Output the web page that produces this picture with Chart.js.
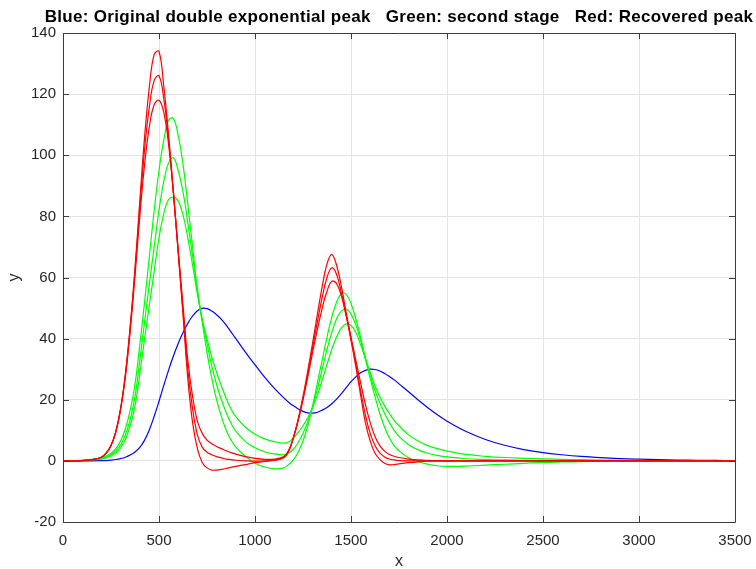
<!DOCTYPE html>
<html>
<head>
<meta charset="utf-8">
<script src="https://cdn.jsdelivr.net/npm/chart.js@4.4.1/dist/chart.umd.min.js"></script>
<style>
  html, body { margin: 0; padding: 0; background: #fff; }
</style>
</head>
<body>
<canvas id="chart" width="756" height="569"></canvas>
<script>
// shared x positions (finer where the peaks are)
const xs = [0, 100, 150,
  200, 225, 250, 275, 300, 325, 350, 375, 400, 425, 450, 475, 500, 525, 550, 575, 600, 625, 650, 675, 700, 725, 750, 775, 800, 825, 850, 875, 900,
  950, 1000, 1050, 1100, 1150,
  1175, 1200, 1225, 1250, 1275, 1300, 1325, 1350, 1375, 1400, 1425, 1450, 1475, 1500, 1525, 1550, 1575, 1600, 1625, 1650, 1675, 1700, 1725, 1750,
  1800, 1850, 1900, 1950, 2000,
  2100, 2200, 2300, 2400, 2500, 2600, 2700, 2800, 2900, 3000, 3100, 3200, 3300, 3400, 3500];

// Blue: original double exponential peak
const original = [0, 0, 0,
  0.05, 0.1, 0.25, 0.45, 0.75, 1.2, 1.9, 2.9, 4.4, 6.8, 10.2, 14.6, 19.5, 24.7, 29.7, 34.3, 38.4, 42, 45, 47.4, 49.1, 49.9, 49.8, 49, 47.8, 46.3, 44.4, 42.2, 40,
  35.6, 31.4, 27.4, 23.8, 20.6,
  19.2, 18, 17, 16.2, 15.7, 15.6, 15.9, 16.6, 17.5, 18.7, 20.2, 22, 24, 25.9, 27.5, 28.8, 29.6, 30, 29.9, 29.4, 28.6, 27.6, 26.5, 25.2,
  22.6, 19.9, 17.4, 15.1, 13,
  9.6, 7, 5.1, 3.7, 2.7, 2, 1.45, 1.05, 0.75, 0.55, 0.4, 0.28, 0.2, 0.14, 0.1];

// Green: second stage (three settings)
const stage2a = [0, 0.2, 0.5,
  1, 1.6, 2.5, 4, 6.5, 10.5, 16.5, 25, 38, 52, 67, 82, 95, 105, 111.5, 112, 106.5, 97, 84, 70, 56, 45.5, 35.5, 27, 20, 14.5, 10, 6.8, 4.5,
  1.5, -0.8, -2, -2.6, -2.3,
  -1.2, 0.3, 2.8, 6.5, 11.5, 18, 25.5, 33, 40.5, 47, 52, 54.7, 54.5, 51.5, 46.5, 40.5, 33.5, 27, 21, 15.5, 11, 7.5, 5, 3.3,
  1, -0.3, -1.1, -1.6, -1.8,
  -1.7, -1.4, -1.1, -0.8, -0.5, -0.35, -0.25, -0.15, -0.1, -0.05, 0, 0, 0, 0, 0];
const stage2b = [0, 0.15, 0.4,
  0.8, 1.3, 2, 3.3, 5.2, 8.5, 13.5, 21, 33, 45.5, 58, 70, 82, 91.5, 97.5, 99.2, 95, 88, 78, 67, 56, 46, 38.5, 31, 25, 20, 15.8, 12.3, 9.7,
  6.3, 4.3, 3, 2.3, 2,
  2.5, 3.8, 6, 9, 12.8, 17.5, 23.5, 30, 36.5, 42, 46.5, 49, 49.7, 48, 44.5, 39.5, 33.5, 28, 23, 19, 15.5, 12.5, 10, 8,
  5.3, 3.6, 2.5, 1.8, 1.3,
  0.7, 0.45, 0.3, 0.2, 0.15, 0.1, 0.07, 0.05, 0.03, 0.02, 0, 0, 0, 0, 0];
const stage2c = [0, 0.1, 0.3,
  0.6, 1, 1.6, 2.6, 4.3, 7, 11.5, 18, 28.5, 40, 51, 62, 73, 81, 85.5, 86.3, 85, 80.5, 73, 64, 54.5, 46.5, 40, 34, 29, 24.5, 20.5, 17, 14.5,
  11, 8.7, 7.2, 6.3, 5.8,
  6.2, 7.5, 9.3, 11.5, 14.2, 17.5, 21.5, 26.5, 31.5, 36.5, 40.5, 43.5, 44.8, 44.3, 42, 38, 33.5, 29, 24.5, 21, 18, 15.5, 13.2, 11.5,
  8.5, 6.5, 5, 4, 3.2,
  2.1, 1.5, 1.1, 0.85, 0.65, 0.5, 0.38, 0.28, 0.2, 0.15, 0.1, 0.07, 0.05, 0.03, 0.02];

// Red: recovered peak (three settings)
const recoveredA = [0, 0.1, 0.4,
  1.2, 2.5, 5, 9.5, 17, 28.5, 44, 63, 85, 106, 122.5, 133, 134, 122.5, 106.5, 88, 68, 48, 27, 12.5, 4, -0.5, -2.3, -3, -3, -2.8, -2.5, -2.1, -1.8,
  -1.2, -0.6, -0.2, 0.2, 1,
  3, 7.5, 13.5, 21, 29.5, 38.5, 48, 57, 64.5, 67.5, 64, 57, 48.5, 40, 31, 21.5, 12.5, 6.5, 2.5, 0.5, -0.8, -1.3, -1.2, -1,
  -0.6, -0.3, -0.1, 0, 0,
  0, 0, 0, 0, 0, 0, 0, 0, 0, 0, 0, 0, 0, 0, 0];
const recoveredB = [0, 0.1, 0.4,
  1.2, 2.5, 5, 9.5, 17, 28, 43.5, 62, 83, 102, 116, 124.5, 126, 118.5, 105, 88, 68.5, 49, 30, 17, 8.5, 4.5, 2.8, 2, 1.4, 1, 0.6, 0.4, 0.2,
  0, -0.1, 0, 0.3, 1.2,
  3.2, 7.6, 13.5, 20.5, 28.5, 37, 45.5, 53.5, 60, 63.2, 61, 55, 47.5, 39.5, 31.5, 23, 15, 9, 5, 2.6, 1.3, 0.6, 0.3, 0.1,
  0, 0, 0, 0, 0,
  0, 0, 0, 0, 0, 0, 0, 0, 0, 0, 0, 0, 0, 0, 0];
const recoveredC = [0, 0.1, 0.4,
  1.2, 2.5, 5, 9.5, 16.8, 27.5, 42.5, 60.5, 80, 97, 109.5, 116.5, 118, 114, 103.5, 87.5, 69, 51, 33, 21, 13, 9, 6.8, 5.6, 4.7, 4, 3.3, 2.7, 2.2,
  1.4, 0.8, 0.5, 0.6, 1.4,
  3.4, 7.6, 13.3, 20, 27.5, 35.5, 43, 50, 55.5, 58.8, 58, 54, 47.5, 40.5, 33, 25.5, 18.5, 12.5, 8, 5, 3.2, 2.1, 1.5, 1.1,
  0.6, 0.3, 0.15, 0.05, 0,
  0, 0, 0, 0, 0, 0, 0, 0, 0, 0, 0, 0, 0, 0, 0];

const xTicks = [0, 500, 1000, 1500, 2000, 2500, 3000, 3500];
const yTicks = [-20, 0, 20, 40, 60, 80, 100, 120, 140];
const titleText = 'Blue: Original double exponential peak   Green: second stage   Red: Recovered peak';

const FONT = '"Liberation Sans", Arial, Helvetica, sans-serif';
const toPoints = ys => ys.map((y, i) => ({ x: xs[i], y: y }));

function line(data, color) {
  return {
    data: toPoints(data),
    borderColor: color,
    borderWidth: 1.2,
    pointRadius: 0,
    fill: false,
    tension: 0.4
  };
}

// MATLAB style box with inward ticks, plus the title centred over the plot
const boxPlugin = {
  id: 'boxPlugin',
  afterDraw(chart) {
    const ctx = chart.ctx;
    const a = chart.chartArea;
    const sx = chart.scales.x, sy = chart.scales.y;
    const tick = 6;
    ctx.save();
    ctx.strokeStyle = '#3c3c3c';
    ctx.lineWidth = 1;
    ctx.beginPath();
    ctx.rect(Math.round(a.left) + 0.5, Math.round(a.top) + 0.5, Math.round(a.right - a.left), Math.round(a.bottom - a.top));
    xTicks.forEach(v => {
      const px = Math.round(sx.getPixelForValue(v)) + 0.5;
      ctx.moveTo(px, a.bottom); ctx.lineTo(px, a.bottom - tick);
      ctx.moveTo(px, a.top); ctx.lineTo(px, a.top + tick);
    });
    yTicks.forEach(v => {
      const py = Math.round(sy.getPixelForValue(v)) + 0.5;
      ctx.moveTo(a.left, py); ctx.lineTo(a.left + tick, py);
      ctx.moveTo(a.right, py); ctx.lineTo(a.right - tick, py);
    });
    ctx.stroke();

    ctx.fillStyle = '#000';
    ctx.font = 'bold 17px ' + FONT;
    ctx.letterSpacing = '0.3px';
    ctx.textAlign = 'center';
    ctx.textBaseline = 'middle';
    ctx.fillText(titleText, (a.left + a.right) / 2, 17);
    ctx.restore();
  }
};

new Chart(document.getElementById('chart'), {
  type: 'line',
  data: {
    datasets: [
      line(recoveredA, 'rgb(255,0,0)'),
      line(recoveredB, 'rgb(255,0,0)'),
      line(recoveredC, 'rgb(255,0,0)'),
      line(stage2a, 'rgb(0,255,0)'),
      line(stage2b, 'rgb(0,255,0)'),
      line(stage2c, 'rgb(0,255,0)'),
      line(original, 'rgb(0,0,255)')
    ]
  },
  options: {
    responsive: false,
    animation: false,
    layout: { padding: { top: 33, right: 21, left: 0, bottom: 0 } },
    plugins: { legend: { display: false }, tooltip: { enabled: false }, title: { display: false } },
    scales: {
      x: {
        type: 'linear',
        min: 0, max: 3500,
        afterBuildTicks: s => { s.ticks = xTicks.map(v => ({ value: v })); },
        afterFit: s => { s.height = 47; s.paddingLeft = 0; s.paddingRight = 0; },
        grid: { color: '#e3e3e3', drawTicks: false },
        border: { display: false },
        ticks: { color: '#262626', font: { family: FONT, size: 15 }, padding: 10, maxRotation: 0, callback: v => String(v) },
        title: { display: true, text: 'x', color: '#262626', font: { family: FONT, size: 16 }, padding: { top: 0, bottom: -2 } }
      },
      y: {
        min: -20, max: 140,
        afterBuildTicks: s => { s.ticks = yTicks.map(v => ({ value: v })); },
        afterFit: s => { s.width = 63; s.paddingTop = 0; s.paddingBottom = 0; },
        grid: { color: '#e3e3e3', drawTicks: false },
        border: { display: false },
        ticks: { color: '#262626', font: { family: FONT, size: 15 }, padding: 7, callback: v => String(v) },
        title: { display: true, text: 'y', color: '#262626', font: { family: FONT, size: 16 }, padding: { top: 5, bottom: 0 } }
      }
    }
  },
  plugins: [boxPlugin]
});
</script>
</body>
</html>
